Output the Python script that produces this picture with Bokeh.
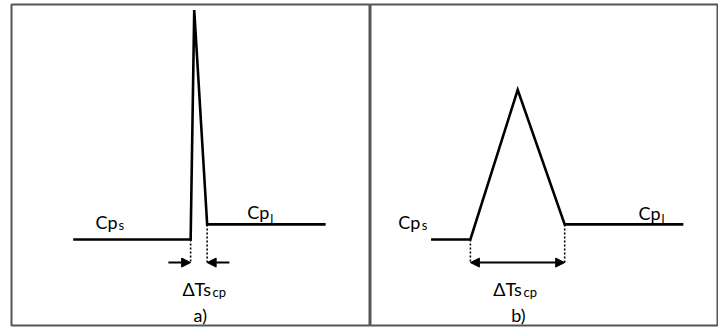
from bokeh.plotting import figure
from bokeh.layouts import row
from bokeh.models import Range1d, Arrow, NormalHead
from bokeh.core.properties import value
from bokeh.embed import file_html
from bokeh.resources import INLINE

# ---- data (schematic units: temperature T vs heat capacity Cp) ----
# panel a) sharp peak
a_T = [17.2, 49.9, 50.9, 54.5, 87.5]
a_Cp = [26.8, 26.8, 98.3, 31.5, 31.5]
# panel b) broad peak
b_T = [17.4, 28.7, 42.3, 55.8, 89.9]
b_Cp = [26.8, 26.8, 73.4, 31.5, 31.5]
arrow_level = 19.6
a_arrow_len = 6.2

FONT = "Lato"
INK = "#000000"


def make_panel(width, border_left, T, Cp, labels, double_arrow, panel_label, label_x):
    p = figure(width=width, height=327, output_backend="svg", toolbar_location=None,
               x_range=Range1d(0, 100), y_range=Range1d(0, 100),
               min_border_left=border_left, min_border_right=0,
               min_border_top=4, min_border_bottom=2)
    p.axis.visible = False
    p.grid.visible = False
    p.outline_line_color = "#555555"
    p.outline_line_width = 2
    p.background_fill_color = "white"
    p.border_fill_color = "white"

    # curve
    p.line(T, Cp, line_color="black", line_width=2.6, line_join="miter")

    # dotted guides from transition onset/end down to the arrow level
    t_on, c_on = T[1], Cp[1]
    t_end, c_end = T[3], Cp[3]
    p.segment(x0=[t_on, t_end], y0=[c_on, c_end], x1=[t_on, t_end],
              y1=[arrow_level, arrow_level], line_color="black",
              line_width=1.6, line_dash="2 2")

    head = dict(size=9, fill_color="black", line_color="black")
    if double_arrow:
        p.add_layout(Arrow(start=NormalHead(**head), end=NormalHead(**head),
                           x_start=t_on, y_start=arrow_level,
                           x_end=t_end, y_end=arrow_level,
                           line_color="black", line_width=2))
    else:
        p.add_layout(Arrow(end=NormalHead(**head),
                           x_start=t_on - a_arrow_len, y_start=arrow_level,
                           x_end=t_on, y_end=arrow_level,
                           line_color="black", line_width=2))
        p.add_layout(Arrow(end=NormalHead(**head),
                           x_start=t_end + a_arrow_len, y_start=arrow_level,
                           x_end=t_end, y_end=arrow_level,
                           line_color="black", line_width=2))

    # main texts and subscripts
    for (x, y, txt, size) in labels:
        p.text(x=[x], y=[y], text=[txt], text_font=value(FONT),
               text_font_size=size, text_color=INK,
               text_align="left", text_baseline="alphabetic")
    p.text(x=[label_x], y=[3.2], text=[panel_label], text_font=value(FONT),
           text_font_size="18px", text_color=INK,
           text_align="center", text_baseline="alphabetic")
    return p


a_labels = [
    (23.4, 32.1, "Cp", "18px"), (29.8, 31.2, "s", "13px"),
    (65.7, 35.4, "Cp", "18px"), (72.1, 33.3, "l", "13px"),
    (47.6, 11.5, "ΔTs", "18px"), (56.0, 10.3, "cp", "13px"),
]
b_labels = [
    (8.0, 32.1, "Cp", "18px"), (14.7, 31.2, "s", "13px"),
    (77.0, 35.2, "Cp", "18px"), (83.6, 33.3, "l", "13px"),
    (35.3, 11.5, "ΔTs", "18px"), (44.0, 10.3, "cp", "13px"),
]

pa = make_panel(370, 11, a_T, a_Cp, a_labels, False, "a)", 52.6)
pb = make_panel(348, 0, b_T, b_Cp, b_labels, True, "b)", 42.5)

layout = row(pa, pb, spacing=0)
open("out.html", "w").write(file_html(layout, INLINE))
